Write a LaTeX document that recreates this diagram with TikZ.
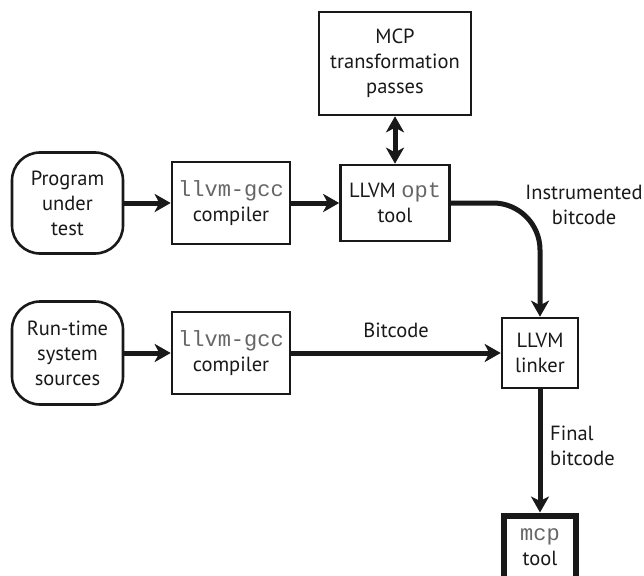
\documentclass[tikz,border=0pt]{standalone}
\usepackage{fontspec}
\setmainfont{PT Sans}
\setmonofont{Liberation Mono}
\usepackage{tikz}
\usetikzlibrary{arrows.meta,calc,positioning}

% mono command names inside the boxes
\newcommand{\cmdtt}[1]{{\fontsize{22}{25}\selectfont\ttfamily\color{black!60}#1}}

\begin{document}
\begin{tikzpicture}[
    x=1pt, y=-1pt,
    every node/.style={font=\fontsize{20.5}{25}\selectfont, align=center, text=black!90},
    stage/.style={draw=black!90, line width=2.6pt, inner sep=0pt},
    source/.style={stage, rounded corners=28pt},
    flow/.style={draw=black!90, line width=5pt, -{Stealth[length=16pt,width=18pt,inset=4.5pt]}},
    caption/.style={inner sep=0pt}
]
    \useasboundingbox (0,0) rectangle (644,575);

    % --- Sources (links) ---
    \node[source, minimum width=111pt, minimum height=101pt] (prog) at (67.5,203) {Program\\under\\test};
    \node[source, minimum width=111pt, minimum height=103pt] (rts) at (67.5,353) {Run-time\\system\\sources};

    % --- Compilers ---
    \node[stage, minimum width=118pt, minimum height=82pt] (cc1) at (231,203) {\cmdtt{llvm-gcc}\\compiler};
    \node[stage, minimum width=118pt, minimum height=82pt] (cc2) at (231,353) {\cmdtt{llvm-gcc}\\compiler};

    % --- opt tool & MCP passes ---
    \node[stage, minimum width=109pt, minimum height=76pt] (opt) at (395,203) {LLVM \cmdtt{opt}\\tool};
    \node[stage, minimum width=152pt, minimum height=103pt] (passes) at (395,63.5) {MCP\\transformation\\passes};

    % --- Linker & final tool ---
    \node[stage, minimum width=76pt, minimum height=70pt] (link) at (540,353) {LLVM\\linker};
    \node[stage, line width=6pt, minimum width=72pt, minimum height=63pt] (mcp) at (540,547) {\cmdtt{mcp}\\tool};

    % --- Flows ---
    \draw[flow] (prog) -- (cc1);
    \draw[flow] (cc1) -- (opt);
    \draw[flow, {Stealth[length=16pt,width=18pt,inset=4.5pt]}-{Stealth[length=16pt,width=18pt,inset=4.5pt]}] (passes) -- (opt);
    \draw[flow, rounded corners=47pt] (opt.east) -| (link.north);
    \draw[flow] (rts) -- (cc2);
    \draw[flow] (cc2) -- (link);
    \draw[flow] (link) -- (mcp);

    % --- Labels ---
    \node[caption] (instr) at (584,205) {Instrumented\\bitcode};
    \node[caption] (bitc) at (396,330) {Bitcode};
    \node[caption, anchor=west, align=left] (final) at (550,446) {Final\\bitcode};

\end{tikzpicture}
\end{document}
